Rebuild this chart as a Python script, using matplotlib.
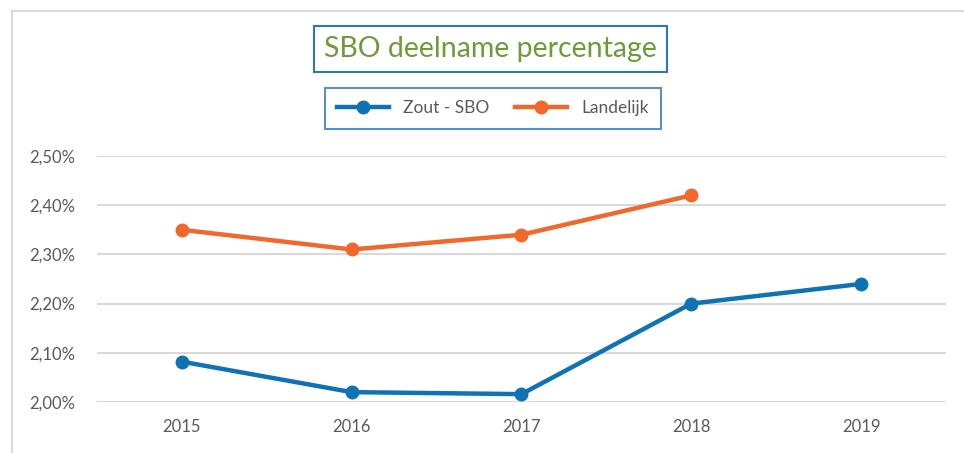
import matplotlib
matplotlib.use("Agg")
import matplotlib.pyplot as plt
from matplotlib.lines import Line2D

# data
jaren = ["2015", "2016", "2017", "2018", "2019"]
zout_sbo = [2.082, 2.020, 2.016, 2.200, 2.240]
landelijk = [2.35, 2.31, 2.34, 2.42]
y_ticks = [2.00, 2.10, 2.20, 2.30, 2.40, 2.50]

blauw = "#0E72B5"
oranje = "#F0682C"
grijs = "#595959"

plt.rcParams['font.family'] = ['Lato', 'DejaVu Sans']

fig = plt.figure(figsize=(9.64, 4.53), dpi=100)
ax = fig.add_axes([0.1006, 0.1126, 0.8807, 0.543])

x = list(range(len(jaren)))
ax.plot(x, zout_sbo, color=blauw, lw=3.2, marker="o", ms=9, label="Zout - SBO")
ax.plot(x[:len(landelijk)], landelijk, color=oranje, lw=3.2, marker="o", ms=9, label="Landelijk")

ax.set_xlim(-0.5, 4.5)
ax.set_ylim(2.00, 2.50)
ax.set_yticks(y_ticks)
ax.set_yticklabels([("%.2f%%" % v).replace(".", ",") for v in y_ticks])
ax.set_xticks(x)
ax.set_xticklabels(jaren)
ax.tick_params(length=0, labelsize=12, colors=grijs)
ax.tick_params(axis="y", pad=16)
ax.tick_params(axis="x", pad=12)
ax.grid(axis="y", color="#D9D9D9", lw=1.5)
ax.set_axisbelow(True)
for s in ax.spines.values():
    s.set_visible(False)

# titel met kader
fig.text(0.509, 0.892, "SBO deelname percentage", ha="center", va="center",
         fontsize=20.5, color="#6E9A3A",
         bbox=dict(boxstyle="square,pad=0.35", fc="white", ec="#2E75B6", lw=1.5))

leg = fig.legend(loc="center", bbox_to_anchor=(0.511, 0.7605), ncol=2,
                 frameon=True, fancybox=False, fontsize=12.5, handlelength=3,
                 columnspacing=1.5, borderpad=0.7, labelcolor=grijs)
leg.get_frame().set_edgecolor("#2E75B6")
leg.get_frame().set_linewidth(1.5)

# buitenrand
fig.add_artist(Line2D([12/964, 1], [1-11/453, 1-11/453], color="#D9D9D9", lw=1.5, transform=fig.transFigure))
fig.add_artist(Line2D([12/964, 12/964], [0, 1-11/453], color="#D9D9D9", lw=1.5, transform=fig.transFigure))

fig.savefig("out.png", dpi=100)
